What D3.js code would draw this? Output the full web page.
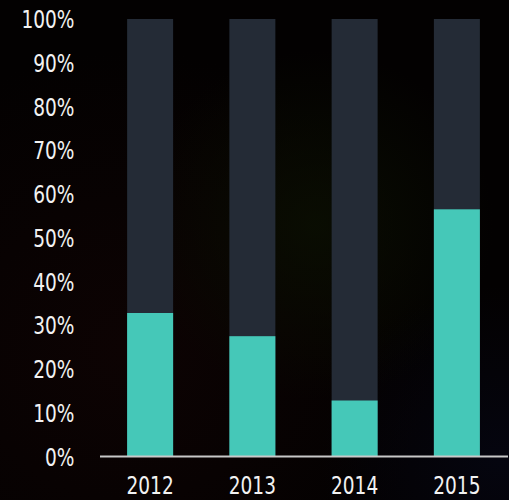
<!DOCTYPE html>
<html>
<head>
<meta charset="utf-8">
<script src="https://cdn.jsdelivr.net/npm/d3@7"></script>
<style>
  html, body { margin: 0; padding: 0; background: #050303; }
  svg { display: block; }
</style>
</head>
<body>
<svg id="chart" width="509" height="500"></svg>
<script>
// Share per year (percent); remainder to 100% is drawn as the dark segment
const years = ["2012", "2013", "2014", "2015"];
const shareValues = [32.8, 27.5, 12.8, 56.5];
const yTicks = [0, 10, 20, 30, 40, 50, 60, 70, 80, 90, 100];

const W = 509, H = 500;
const svg = d3.select("#chart");

// Soft background glow
const defs = svg.append("defs");
function glow(id, cx, cy, r, color, op) {
  const g = defs.append("radialGradient").attr("id", id)
    .attr("cx", cx).attr("cy", cy).attr("r", r);
  g.append("stop").attr("offset", 0).attr("stop-color", color).attr("stop-opacity", op);
  g.append("stop").attr("offset", 1).attr("stop-color", color).attr("stop-opacity", 0);
}
glow("glowWarm", 0.25, 0.7, 0.6, "#0d0303", 1);
glow("glowBlue", 0.98, 0.92, 0.35, "#05050f", 1);
glow("glowGreen", 0.62, 0.45, 0.35, "#0a0e02", 0.9);

svg.append("rect").attr("width", W).attr("height", H).attr("fill", "#030101");
svg.append("rect").attr("width", W).attr("height", H).attr("fill", "url(#glowWarm)");
svg.append("rect").attr("width", W).attr("height", H).attr("fill", "url(#glowBlue)");
svg.append("rect").attr("width", W).attr("height", H).attr("fill", "url(#glowGreen)");

const x = d3.scaleBand().domain(years).range([99, 508])
  .paddingInner(0.55).paddingOuter(0.275);
const y = d3.scaleLinear().domain([0, 100]).range([456.5, 19]);

const data = years.map((yr, i) => ({ year: yr, share: shareValues[i] }));

// Full-height dark bars (the remainder)
svg.append("g").selectAll("rect").data(data).join("rect")
  .attr("x", d => x(d.year))
  .attr("width", x.bandwidth())
  .attr("y", y(100))
  .attr("height", y(0) - y(100))
  .attr("fill", "#242b36");

// Teal share segments
svg.append("g").selectAll("rect").data(data).join("rect")
  .attr("x", d => x(d.year))
  .attr("width", x.bandwidth())
  .attr("y", d => y(d.share))
  .attr("height", d => y(0) - y(d.share))
  .attr("fill", "#45c8b8");

const fontFamily = "'Liberation Sans Narrow', 'DejaVu Sans Condensed', 'DejaVu Sans', sans-serif";
// Narrow the glyphs horizontally for a condensed look
const squeeze = "scale(0.86,1)";

// Y axis labels
const yAxis = d3.axisLeft(y).tickValues(yTicks).tickFormat(d => d + "%").tickSize(0).tickPadding(0);
const yG = svg.append("g").attr("transform", "translate(74.5,0)").call(yAxis);
yG.select(".domain").remove();
yG.selectAll("text")
  .attr("fill", "#f2f2f2")
  .attr("font-family", fontFamily)
  .attr("font-size", 24)
  .attr("dy", "0.36em")
  .attr("transform", squeeze);

// X axis
const xAxis = d3.axisBottom(x).tickSize(0).tickPadding(0);
const xG = svg.append("g").attr("transform", `translate(0,${y(0)})`).call(xAxis);
xG.select(".domain")
  .attr("d", `M100,0H508`)
  .attr("stroke", "#c8c8c8")
  .attr("stroke-width", 2);
xG.selectAll("text")
  .attr("fill", "#f2f2f2")
  .attr("font-family", fontFamily)
  .attr("font-size", 24)
  .attr("y", 38)
  .attr("dy", 0)
  .attr("transform", squeeze);
</script>
</body>
</html>
